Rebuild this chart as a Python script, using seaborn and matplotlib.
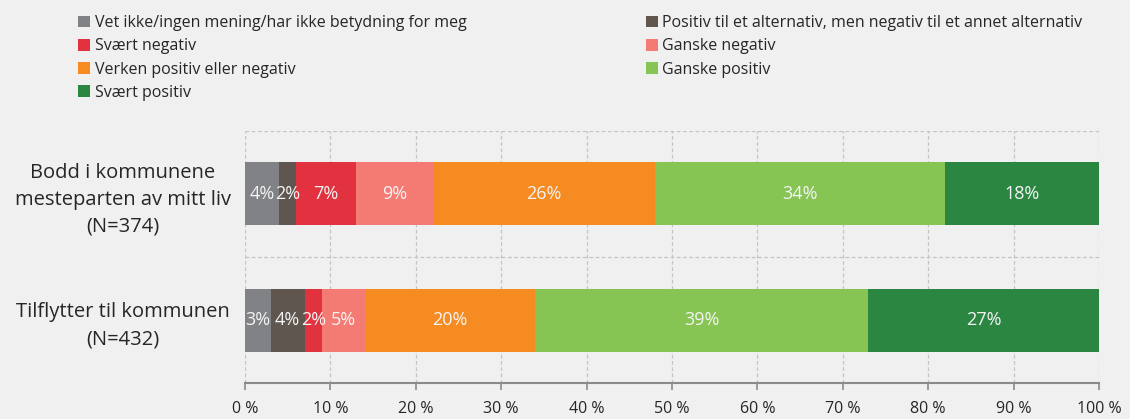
import numpy as np
import pandas as pd
import seaborn as sns
import matplotlib.pyplot as plt
from matplotlib.patches import Patch

groups = ["Bodd i kommunene\nmesteparten av mitt liv\n(N=374)",
          "Tilflytter til kommunen\n(N=432)"]
categories = ["Vet ikke/ingen mening/har ikke betydning for meg",
              "Positiv til et alternativ, men negativ til et annet alternativ",
              "Svært negativ",
              "Ganske negativ",
              "Verken positiv eller negativ",
              "Ganske positiv",
              "Svært positiv"]
values_bodd = [4, 2, 7, 9, 26, 34, 18]
values_tilflytter = [3, 4, 2, 5, 20, 39, 27]
colors = ["#808285", "#5f574f", "#e2323f", "#f47b74", "#f68b21", "#86c453", "#2b8642"]
xticks = list(range(0, 101, 10))

sns.set_style("white")
plt.rcParams['font.family'] = ['Open Sans', 'DejaVu Sans']
bg = "#f0f0f0"

fig = plt.figure(figsize=(11.3, 4.19), dpi=100, facecolor=bg)
ax = fig.add_axes([245 / 1130, 36 / 419, 854 / 1130, 252 / 419])
ax.set_facecolor(bg)

# long table with cumulative ends, drawn back to front so each bar covers the rest
rows = []
for g, vals in zip(groups, [values_bodd, values_tilflytter]):
    cum = np.cumsum(vals)
    for i, (cat, v) in enumerate(zip(categories, vals)):
        rows.append({"group": g, "cat": cat, "value": v, "end": cum[i], "idx": i})
df = pd.DataFrame(rows)

for i in reversed(range(len(categories))):
    sub = df[df["idx"] == i]
    sns.barplot(data=sub, x="end", y="group", order=groups, color=colors[i],
                width=0.5, orient="h", ax=ax, saturation=1, linewidth=0)

for _, r in df.iterrows():
    yi = groups.index(r["group"])
    ax.text(r["end"] - r["value"] / 2, yi, f"{r['value']}%", ha="center", va="center",
            color="#f4f4f4", fontsize=13)

ax.set_xlim(0, 100)
ax.set_ylim(1.5, -0.5)
ax.set_xticks(xticks)
ax.set_xticklabels([f"{t} %" for t in xticks], fontsize=11.5)
ax.set_yticks([0, 1])
ax.set_yticklabels(groups, fontsize=14.5, ha="center", multialignment="center", linespacing=1.45)
ax.tick_params(axis="y", length=0, pad=88)
ax.tick_params(axis="x", length=5, color="#8a8a8a", width=1.2, pad=8, direction="out", bottom=True)
ax.set_xlabel("")
ax.set_ylabel("")

for x in xticks:
    ax.axvline(x, color="#c4c4c4", linestyle=(0, (3, 2)), linewidth=0.9, zorder=0)
for y in [-0.5, 0.5]:
    ax.axhline(y, color="#c4c4c4", linestyle=(0, (3, 2)), linewidth=0.9, zorder=0)

for s in ["top", "right", "left"]:
    ax.spines[s].set_visible(False)
ax.spines["bottom"].set_color("#8a8a8a")
ax.spines["bottom"].set_linewidth(1.5)

# legend, filled row by row across two columns
order = [0, 2, 4, 6, 1, 3, 5]
handles = [Patch(facecolor=colors[i], edgecolor="none") for i in order]
labels = [categories[i] for i in order]
fig.legend(handles, labels, loc="upper left", bbox_to_anchor=(67 / 1130, 1 - 4 / 419), ncol=2,
           frameon=False, fontsize=11.5, handlelength=0.75, handleheight=0.75,
           handletextpad=0.3, columnspacing=11.2, labelspacing=0.45, borderaxespad=0.3)

fig.savefig("out.png", dpi=100, facecolor=bg)
